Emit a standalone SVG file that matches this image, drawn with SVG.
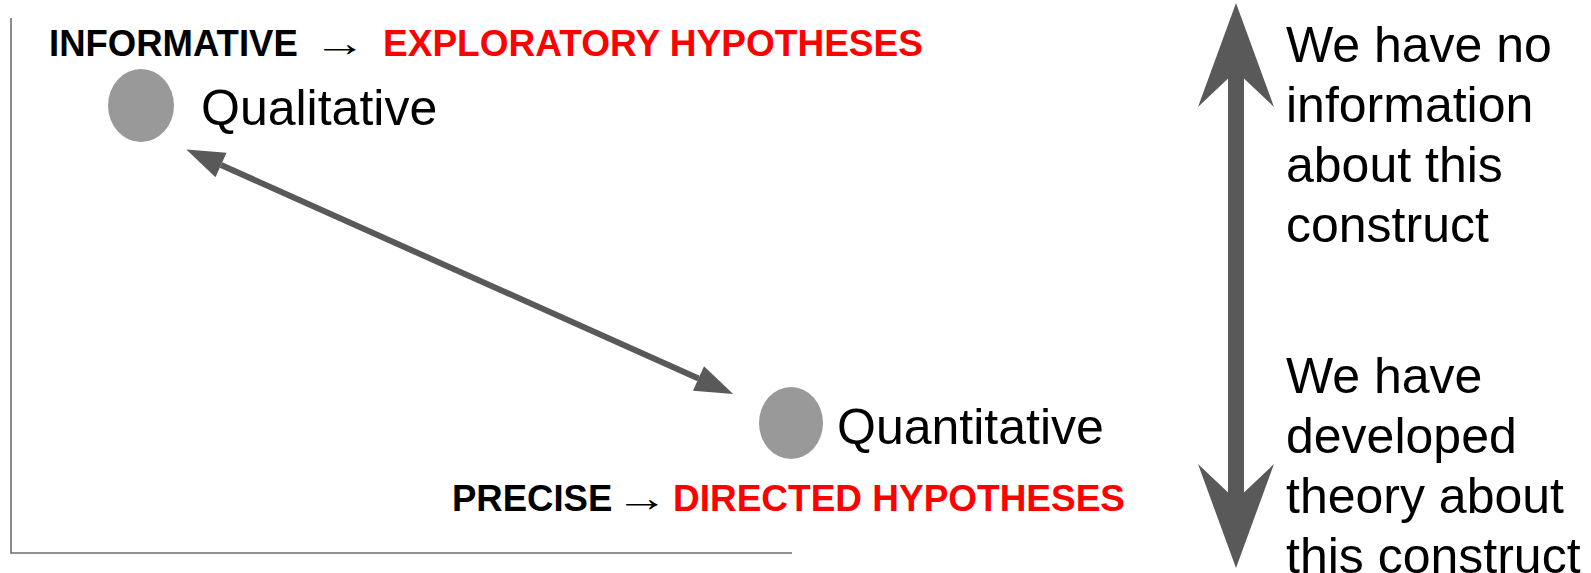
<svg xmlns="http://www.w3.org/2000/svg" width="1591" height="573" viewBox="0 0 1591 573">
  <style>
    .lbl { font-family: "Liberation Sans", Arial, sans-serif; fill: #000; }
    .head { font-family: "Liberation Sans", Arial, sans-serif; font-weight: bold; font-size: 36.5px; }
    .blk { fill: #000; }
    .red { fill: #ff0000; }
    .arr { font-family: "Liberation Sans", Arial, sans-serif; font-size: 38px; fill: #000; }
    .node { fill: #999999; }
    .axis { stroke: #6e6e6e; stroke-width: 1.6; fill: none; }
    .side { font-family: "Liberation Sans", Arial, sans-serif; font-size: 50px; fill: #000; }
  </style>
  <defs>
    <marker id="tri" markerUnits="userSpaceOnUse" viewBox="0 -15 40 30" refX="0" refY="0" markerWidth="40" markerHeight="30" orient="auto-start-reverse" overflow="visible">
      <path d="M0,-13.5 L38,0 L0,13.5 Z" fill="#595959"/>
    </marker>
    <marker id="stealth" markerUnits="userSpaceOnUse" viewBox="-40 -40 110 80" refX="0" refY="0" markerWidth="110" markerHeight="80" orient="auto-start-reverse" overflow="visible">
      <path d="M68,0 L-36,-38 L0,0 L-36,38 Z" fill="#595959"/>
    </marker>
  </defs>
  <rect width="1591" height="573" fill="#ffffff"/>

  <g id="axes">
    <polyline class="axis" points="11,18 11,553 792,553"/>
  </g>

  <g id="label-top">
    <text class="head blk" x="49" y="56">INFORMATIVE</text>
    <text class="arr" x="0" y="0" transform="translate(313,56) scale(1.4,1)">→</text>
    <text class="head red" x="383" y="56" textLength="540" lengthAdjust="spacingAndGlyphs">EXPLORATORY HYPOTHESES</text>
  </g>

  <g id="node-qualitative">
    <ellipse class="node" cx="141" cy="105.5" rx="33" ry="36.5"/>
    <text class="lbl" x="201" y="125" font-size="50">Qualitative</text>
  </g>

  <g id="node-quantitative">
    <ellipse class="node" cx="791" cy="423" rx="32" ry="36"/>
    <text class="lbl" x="837" y="444" font-size="50">Quantitative</text>
  </g>

  <g id="label-bottom">
    <text class="head blk" x="452" y="511" font-size="36">PRECISE</text>
    <text class="arr" x="0" y="0" transform="translate(615,511) scale(1.4,1)">→</text>
    <text class="head red" x="673" y="511" textLength="452" lengthAdjust="spacingAndGlyphs">DIRECTED HYPOTHESES</text>
  </g>

  <g id="connectors">
    <line x1="221" y1="165" x2="698.5" y2="378.5" stroke="#595959" stroke-width="6" marker-start="url(#tri)" marker-end="url(#tri)"/>
    <line x1="1236" y1="71" x2="1236" y2="500" stroke="#595959" stroke-width="16" marker-start="url(#stealth)" marker-end="url(#stealth)"/>
  </g>

  <g id="text-top-right">
    <text class="side" x="1286" y="62">We have no</text>
    <text class="side" x="1286" y="122">information</text>
    <text class="side" x="1286" y="182">about this</text>
    <text class="side" x="1286" y="242">construct</text>
  </g>

  <g id="text-bottom-right">
    <text class="side" x="1286" y="393">We have</text>
    <text class="side" x="1286" y="453">developed</text>
    <text class="side" x="1286" y="513">theory about</text>
    <text class="side" x="1286" y="573">this construct</text>
  </g>
</svg>
